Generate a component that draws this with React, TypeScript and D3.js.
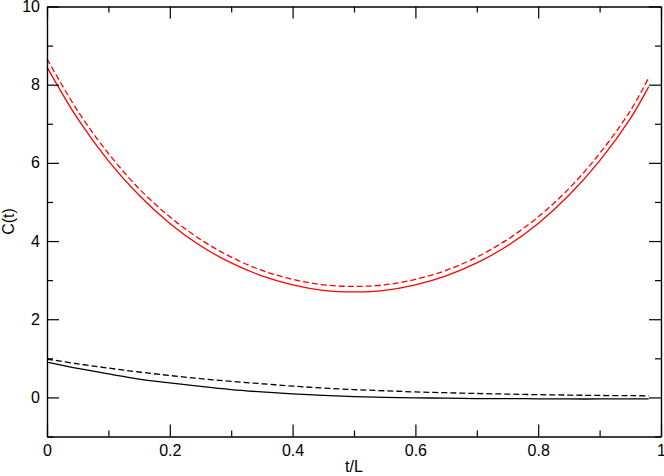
import React, { useRef, useEffect } from "react";
import { select, scaleLinear, line, curveCatmullRom, axisBottom, axisLeft, axisTop, axisRight } from "d3";

// t/L sample positions (lattice of 50 sites, last point at 0.98)
const tL = [0, 0.05, 0.1, 0.15, 0.2, 0.25, 0.3, 0.35, 0.4, 0.45, 0.5, 0.55, 0.6, 0.65, 0.7, 0.75, 0.8, 0.85, 0.9, 0.95, 0.98];

const redSolid = [8.45, 7.13, 6.05, 5.17, 4.45, 3.88, 3.44, 3.11, 2.88, 2.74, 2.7, 2.74, 2.88, 3.11, 3.44, 3.88, 4.45, 5.17, 6.05, 7.13, 7.95];
const redDashed = [8.66, 7.33, 6.24, 5.34, 4.62, 4.04, 3.59, 3.25, 3.02, 2.88, 2.84, 2.88, 3.02, 3.25, 3.59, 4.04, 4.62, 5.34, 6.24, 7.33, 8.18];
const blackSolid = [0.9, 0.74, 0.6, 0.47, 0.37, 0.28, 0.2, 0.14, 0.09, 0.05, 0.02, 0.0, -0.01, -0.02, -0.03, -0.03, -0.035, -0.04, -0.04, -0.04, -0.04];
const blackDashed = [0.98, 0.86, 0.75, 0.65, 0.56, 0.48, 0.41, 0.35, 0.29, 0.24, 0.2, 0.17, 0.14, 0.12, 0.1, 0.085, 0.07, 0.06, 0.05, 0.045, 0.04];

const xMajor = [0, 0.2, 0.4, 0.6, 0.8, 1];
const xMinor = [0.1, 0.3, 0.5, 0.7, 0.9];
const yMajor = [0, 2, 4, 6, 8, 10];
const yMinor = [-1, 1, 3, 5, 7, 9];

const W = 664, H = 476;
const left = 47, right = 661, top = 6.5, bottom = 436.5;

function App() {
  const svgRef = useRef<SVGSVGElement>(null);

  useEffect(() => {
    const svg = select(svgRef.current);
    svg.selectAll("*").remove();

    const x = scaleLinear().domain([0, 1]).range([left, right]);
    const y = scaleLinear().domain([-1, 10]).range([bottom, top]);

    const font = "'Liberation Sans', Arial, Helvetica, sans-serif";
    const noLabel = () => "";

    // curves
    const series = [
      { vals: redSolid, color: "#ff0000", dash: null },
      { vals: redDashed, color: "#ff0000", dash: "6,3" },
      { vals: blackSolid, color: "#000000", dash: null },
      { vals: blackDashed, color: "#000000", dash: "6,3" },
    ];
    const myLine = line<number>()
      .x((d, i) => x(tL[i]))
      .y(d => y(d))
      .curve(curveCatmullRom);

    svg.append("g")
      .selectAll("path")
      .data(series)
      .join("path")
      .attr("d", d => myLine(d.vals))
      .attr("fill", "none")
      .attr("stroke", d => d.color)
      .attr("stroke-width", 1.3)
      .attr("stroke-dasharray", d => d.dash);

    const styleAxis = (g: any) => {
      g.select(".domain").attr("stroke", "#000").attr("stroke-width", 1.2);
      g.selectAll(".tick line").attr("stroke", "#000").attr("stroke-width", 1.2);
      g.selectAll("text").attr("fill", "#000");
      g.attr("font-family", font).attr("font-size", 16);
    };

    // bottom
    svg.append("g")
      .attr("transform", `translate(0,${bottom})`)
      .call(axisBottom(x).tickValues(xMajor).tickSize(-12).tickSizeOuter(0).tickPadding(8).tickFormat((d: any) => String(d)))
      .call(styleAxis);
    svg.append("g")
      .attr("transform", `translate(0,${bottom})`)
      .call(axisBottom(x).tickValues(xMinor).tickSize(-6).tickSizeOuter(0).tickFormat(noLabel))
      .call(styleAxis);
    // top
    svg.append("g")
      .attr("transform", `translate(0,${top})`)
      .call(axisTop(x).tickValues(xMajor).tickSize(-12).tickSizeOuter(0).tickFormat(noLabel))
      .call(styleAxis);
    svg.append("g")
      .attr("transform", `translate(0,${top})`)
      .call(axisTop(x).tickValues(xMinor).tickSize(-6).tickSizeOuter(0).tickFormat(noLabel))
      .call(styleAxis);
    // left
    svg.append("g")
      .attr("transform", `translate(${left},0)`)
      .call(axisLeft(y).tickValues(yMajor).tickSize(-12).tickSizeOuter(0).tickPadding(7).tickFormat((d: any) => String(d)))
      .call(styleAxis);
    svg.append("g")
      .attr("transform", `translate(${left},0)`)
      .call(axisLeft(y).tickValues(yMinor).tickSize(-6).tickSizeOuter(0).tickFormat(noLabel))
      .call(styleAxis);
    // right
    svg.append("g")
      .attr("transform", `translate(${right},0)`)
      .call(axisRight(y).tickValues(yMajor).tickSize(-12).tickSizeOuter(0).tickFormat(noLabel))
      .call(styleAxis);
    svg.append("g")
      .attr("transform", `translate(${right},0)`)
      .call(axisRight(y).tickValues(yMinor).tickSize(-6).tickSizeOuter(0).tickFormat(noLabel))
      .call(styleAxis);

    // axis titles
    svg.append("text")
      .attr("x", (left + right) / 2)
      .attr("y", 472)
      .attr("text-anchor", "middle")
      .attr("font-family", font)
      .attr("font-size", 16)
      .text("t/L");
    svg.append("text")
      .attr("transform", `translate(14,${(top + bottom) / 2}) rotate(-90)`)
      .attr("text-anchor", "middle")
      .attr("font-family", font)
      .attr("font-size", 16)
      .text("C(t)");
  }, []);

  return (
    <svg ref={svgRef} width={W} height={H} style={{ position: "absolute", left: 0, top: 0, background: "#fff" }}></svg>
  );
}

export default App;
